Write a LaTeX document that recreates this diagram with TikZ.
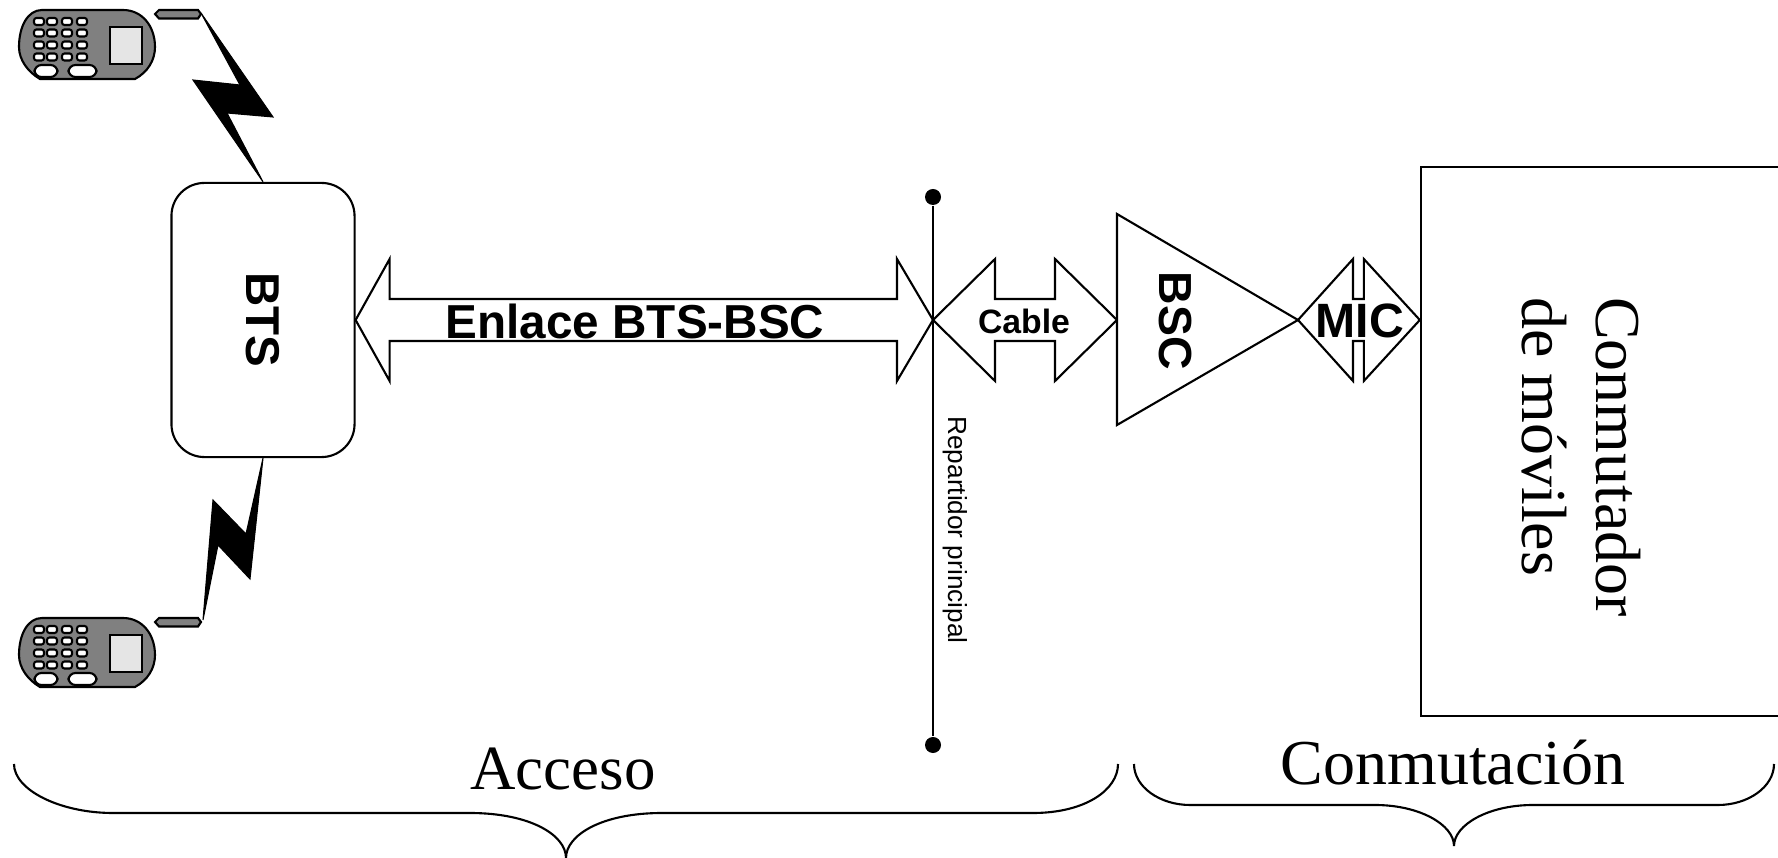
\documentclass[tikz,border=0pt]{standalone}
\usepackage{fontspec}
\setmainfont{Liberation Serif}
\setsansfont{Liberation Sans}
\usetikzlibrary{calc}
\tikzset{
  box/.style={draw,line width=0.6pt,fill=white,inner sep=0pt},
  bolt/.style={draw,fill=black,line width=0.3pt},
  curly/.style={draw,line width=0.6pt},
  boldlabel/.style={font=\sffamily\bfseries\fontsize{#1}{#1}\selectfont,inner sep=0pt},
  seriflabel/.style={font=\fontsize{#1}{21}\selectfont,inner sep=0pt}
}
\newcommand{\blockarrow}[4]{
  \draw[box] (#1) -- ++(#3,-61) -- ++(0,40) -- ($(#2)+(-#4,-21)$) -- ++(0,-40) -- (#2)
    -- ++(-#4,61) -- ++(0,-40) -- ($(#1)+(#3,21)$) -- ++(0,40) -- cycle;
}
\begin{document}
\begin{tikzpicture}[x=0.01cm,y=-0.01cm]
    \useasboundingbox (0,0) rectangle (1778,858);
    % telefonos
    \foreach \dy in {0,608} {
      \begin{scope}[shift={(0,\dy)}]
        \draw[line width=0.6pt,fill=black!50] (42,10) -- (123,10) .. controls (142,10) and (155,26) .. (155,47)
          .. controls (155,60) and (148,72) .. (135,79) -- (40,79) .. controls (28,72) and (19,60) .. (19,47)
          .. controls (19,26) and (28,10) .. (42,10) -- cycle;
        \draw[line width=0.6pt,fill=black!10] (110,27) rectangle (142,64);
        \draw[line width=0.6pt,fill=black!50] (155,14) -- (159,10) -- (198,10) -- (201,14) -- (198,18.5) -- (159,18.5) -- cycle;
        \foreach \kx in {39,52,67,82}
          \foreach \ky in {21.5,33,45,57}
            \draw[line width=0.6pt,fill=white,rounded corners=0.7pt] (\kx-5,\ky-3.5) rectangle (\kx+5,\ky+3.5);
        \draw[line width=0.6pt,fill=white,rounded corners=2pt] (34.5,65) rectangle (57.5,77);
        \draw[line width=0.6pt,fill=white,rounded corners=2pt] (68.5,65) rectangle (96.5,77);
      \end{scope}
    }
    \node[box,rotate=-90,rounded corners=0.33cm,minimum width=2.74cm,minimum height=1.83cm,
      boldlabel=13.5] (bts) at (263,320) {BTS};
    \draw[bolt] (201,13) -- (273,117) -- (227,113) -- (bts.west) -- (193,80) -- (240,85) -- cycle;
    \draw[bolt] (bts.east) -- (250,579) -- (218,545) -- (203,620) -- (213,500) -- (246,534) -- cycle;
    % repartidor
    \coordinate (cross) at (933,320);
    \coordinate (bsctail) at (1117,320);
    \coordinate (bsctip) at (1298,320);
    \node[box,minimum width=4.2cm,minimum height=5.49cm] (conm) at (1631,441.5) {};
    \coordinate (conmw) at (conm.west|-cross);
    \blockarrow{bts.north}{cross}{34}{36}
    \blockarrow{cross}{bsctail}{62}{62}
    \blockarrow{bsctip}{conmw}{55}{56}
    \draw[box] (1117,214) -- (bsctip) -- (1117,425) -- cycle;
    \node[circle,fill=black,inner sep=0pt,minimum size=0.16cm] (dottop) at (933,197) {};
    \node[circle,fill=black,inner sep=0pt,minimum size=0.16cm] (dotbot) at (933,745) {};
    \draw[line width=0.6pt] (dottop) -- (dotbot);
    \node[boldlabel=13.55] (enlace) at (635,321) {Enlace BTS-BSC};
    \node[boldlabel=9.6] (cable) at (1024,321) {Cable};
    \node[boldlabel=13.7] (mic) at (1360,321) {MIC};
    \node[boldlabel=13.2,rotate=-90] (bsc) at (1175,321) {BSC};
    \node[inner sep=0pt,rotate=-90,font=\sffamily\fontsize{7.45}{8}\selectfont] (rep) at (955,530) {Repartidor principal};
    \node[seriflabel=18.2,rotate=-90,align=left] (conmtext) at (1581,457) {Conmutador\\de móviles};
    \node[seriflabel=17.9] (acceso) at (563,769) {Acceso};
    \node[seriflabel=18.2] (conmutacion) at (1453,763) {Conmutación};
    % llaves
    \draw[curly] (14,764) .. controls (14,790) and (60,813) .. (113,813) -- (470,813)
      .. controls (530,813) and (566,835) .. (566,858) .. controls (566,835) and (602,813) .. (662,813)
      -- (1033,813) .. controls (1085,813) and (1118,790) .. (1118,764);
    \draw[curly] (1134,764) .. controls (1134,787) and (1160,805) .. (1190,805) -- (1375,805)
      .. controls (1420,805) and (1454,825) .. (1454,846) .. controls (1454,825) and (1488,805) .. (1533,805)
      -- (1718,805) .. controls (1748,805) and (1774,787) .. (1774,764);
\end{tikzpicture}
\end{document}
